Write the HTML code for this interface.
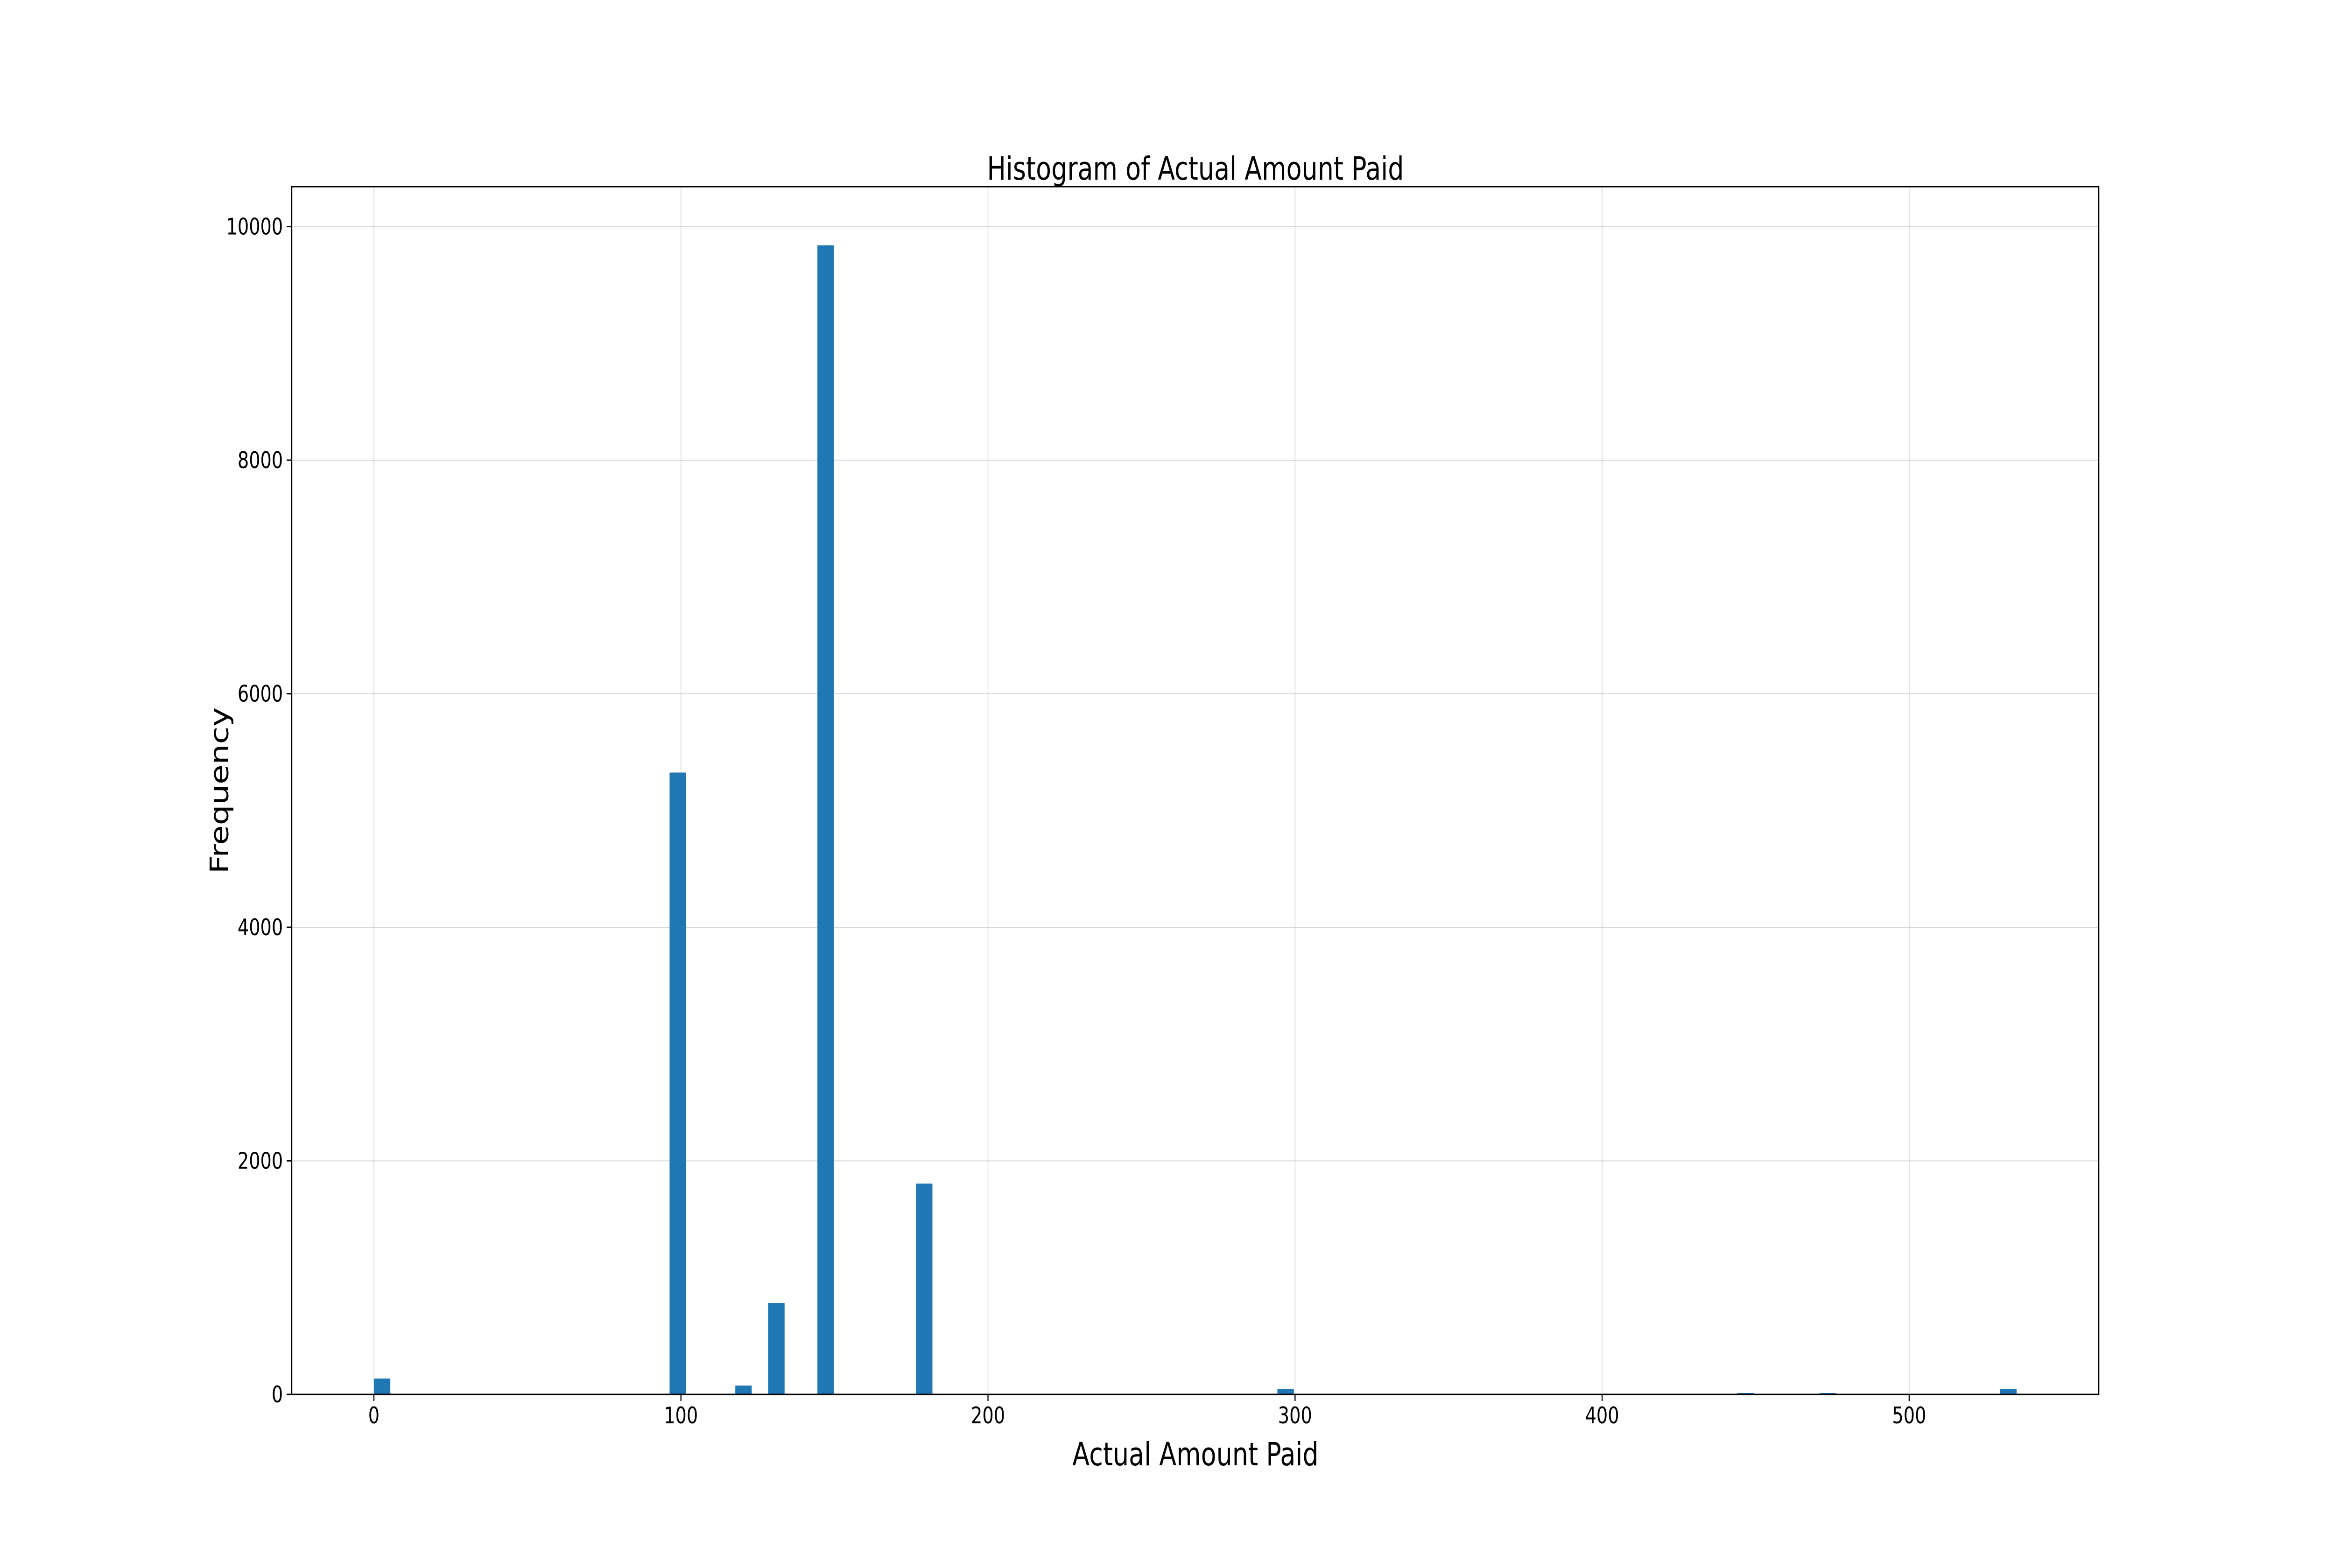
<!DOCTYPE html>
<html><head><meta charset="utf-8"><style>
html,body{margin:0;padding:0;background:#fff;overflow:hidden;width:100vw;height:100vh;}
svg{display:block;width:100vw;height:100vh;}
text{font-family:"DejaVu Sans","Liberation Sans",sans-serif;fill:#000;}
</style></head><body>
<svg id="chart" viewBox="0 0 6400 3360" preserveAspectRatio="none" xmlns="http://www.w3.org/2000/svg">
<rect x="0" y="0" width="6400" height="3360" fill="#fff"/>
<g id="grid"></g>
<g id="bars"></g>
<g id="axes"></g>
<text x="3278" y="385" font-size="69" text-anchor="middle">Histogram of Actual Amount Paid</text>
<text x="3278" y="3140" font-size="69" text-anchor="middle">Actual Amount Paid</text>
<text x="0" y="0" font-size="69" text-anchor="middle" transform="translate(625,1694) rotate(-90)">Frequency</text>
</svg>
<script>
const binStart = 0;
const binWidth = 5.35;
const binIndices = [0, 6, 18, 22, 24, 27, 33, 55, 83, 88, 89, 99];
const binCounts = [136, 4, 5325, 76, 783, 9840, 1805, 44, 12, 12, 5, 44];
const xTicks = [0, 100, 200, 300, 400, 500];
const xTickLabels = ["0", "100", "200", "300", "400", "500"];
const yTicks = [0, 2000, 4000, 6000, 8000, 10000];
const yTickLabels = ["0", "2000", "4000", "6000", "8000", "10000"];

const L = 800, R = 5755, T = 400, B = 2988;
const xMin = -26.75, xMax = 561.75, yMin = 0, yMax = 10342;
const NS = "http://www.w3.org/2000/svg";
function xs(v){ return L + (v - xMin) / (xMax - xMin) * (R - L); }
function ys(v){ return B - (v - yMin) / (yMax - yMin) * (B - T); }
function mk(tag, attrs, parent){
  const e = document.createElementNS(NS, tag);
  for (const k in attrs) e.setAttribute(k, attrs[k]);
  parent.appendChild(e);
  return e;
}
const grid = document.getElementById('grid');
const bars = document.getElementById('bars');
const axes = document.getElementById('axes');

xTicks.forEach((t, i) => {
  const g = mk('line', {x1: xs(t), x2: xs(t), y1: T, y2: B, stroke: '#b0b0b0', 'stroke-width': 2, 'stroke-opacity': 0.5}, grid);
  
  
  const tk = mk('line', {x1: xs(t), x2: xs(t), y1: B, y2: B + 14, stroke: '#000', 'stroke-width': 3}, axes);
  
  
  const lb = mk('text', {x: xs(t), y: B + 62, 'font-size': 49, 'text-anchor': 'middle'}, axes);
  lb.textContent = xTickLabels[i];
  
  
});
yTicks.forEach((t, i) => {
  const g = mk('line', {x1: L, x2: R, y1: ys(t), y2: ys(t), stroke: '#b0b0b0', 'stroke-width': 2, 'stroke-opacity': 0.5}, grid);
  
  
  const tk = mk('line', {x1: L - 14, x2: L, y1: ys(t), y2: ys(t), stroke: '#000', 'stroke-width': 3}, axes);
  
  
  const lb = mk('text', {x: L - 24, y: ys(t) + 17, 'font-size': 49, 'text-anchor': 'end'}, axes);
  lb.textContent = yTickLabels[i];
  
  
});
binIndices.forEach((bi, i) => {
  const x0 = binStart + bi * binWidth, x1 = x0 + binWidth;
  const r = mk('rect', {x: xs(x0), y: ys(binCounts[i]), width: xs(x1) - xs(x0), height: ys(0) - ys(binCounts[i]), fill: '#1f77b4'}, bars);
  
  
});
const frame = mk('rect', {x: L, y: T, width: R - L, height: B - T, fill: 'none', stroke: '#000', 'stroke-width': 3}, axes);


</script>
</body></html>
